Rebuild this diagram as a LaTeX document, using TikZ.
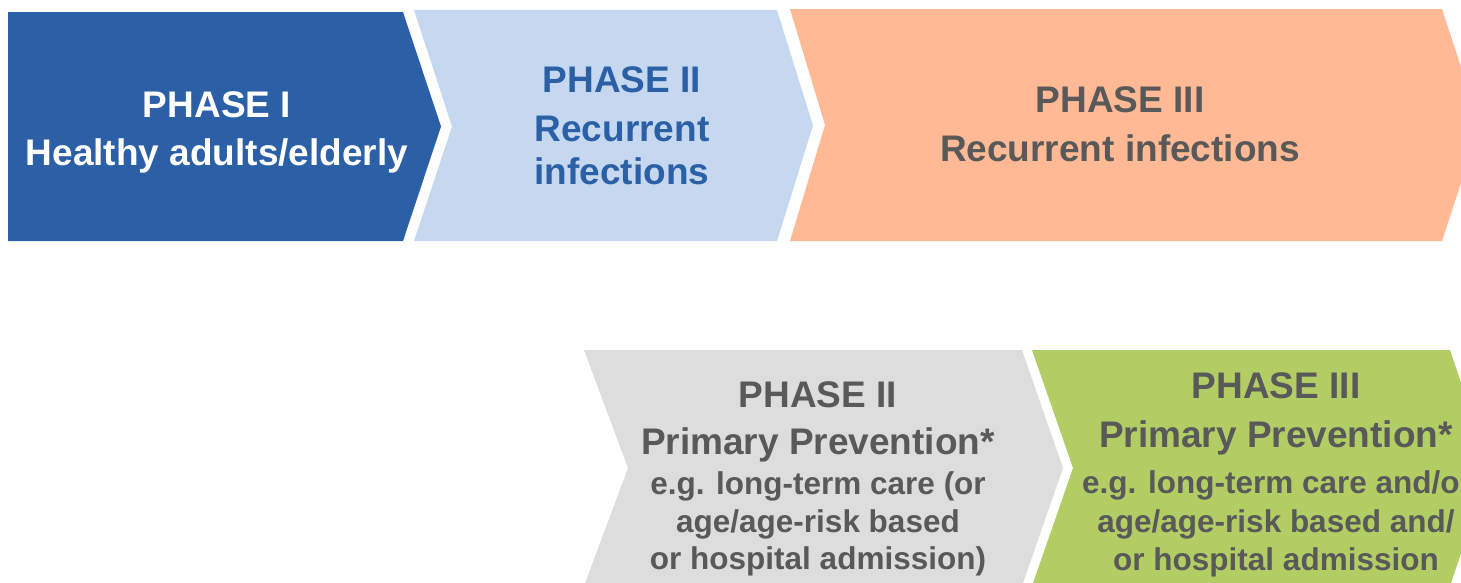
\documentclass[tikz,border=0pt]{standalone}
\usepackage{fontspec}
\setmainfont{Liberation Sans}
\definecolor{darkblue}{HTML}{2B5FA6}
\definecolor{paleblue}{HTML}{C5D8EF}
\definecolor{peach}{HTML}{FFB995}
\definecolor{lightgrey}{HTML}{DDDDDD}
\definecolor{leafgreen}{HTML}{B3CD65}
\definecolor{textgrey}{HTML}{595959}
\tikzset{
  bigline/.style={anchor=base, inner sep=0pt, font=\fontsize{37}{44}\selectfont\bfseries},
  smallline/.style={anchor=base, inner sep=0pt, font=\fontsize{31.5}{38}\selectfont\bfseries},
}
\begin{document}
\begin{tikzpicture}[x=1pt, y=-1pt]
\useasboundingbox (0,0) rectangle (1461,582);
\clip (0,0) rectangle (1461,582);

% top row of chevrons
\fill[darkblue] (8,12) -- (403,12) -- (441,126.5) -- (403,241) -- (8,241) -- cycle;
\fill[paleblue] (414,10) -- (777,10) -- (813,125.5) -- (777,241) -- (414,241) -- (452,126.5) -- cycle;
\fill[peach] (790,9) -- (1442,9) -- (1480,125) -- (1442,241) -- (790,241) -- (825,125) -- cycle;

% bottom row of chevrons
\fill[lightgrey] (584,350) -- (1022,350) -- (1063,468) -- (1022,586) -- (584,586) -- (628,468) -- cycle;
\fill[leafgreen] (1032,350) -- (1450,350) -- (1490,468) -- (1450,586) -- (1032,586) -- (1073,468) -- cycle;

% phase I
\node[bigline, text=white] (p1a) at (217,117) {PHASE I};
\node[bigline, text=white] (p1b) at (217,165) {Healthy adults/elderly};

% phase II, recurrent infections
\node[bigline, text=darkblue] (p2a) at (622,92) {PHASE II};
\node[bigline, text=darkblue] (p2b) at (622,141) {Recurrent};
\node[bigline, text=darkblue] (p2c) at (622,184) {infections};

% phase III, recurrent infections
\node[bigline, text=textgrey] (p3a) at (1120,112) {PHASE III};
\node[bigline, text=textgrey] (p3b) at (1120,161) {Recurrent infections};

% phase II, primary prevention
\node[bigline, text=textgrey] (q2a) at (818,407) {PHASE II};
\node[bigline, text=textgrey] (q2b) at (818,454) {Primary Prevention*};
\node[smallline, text=textgrey] (q2c) at (818,494) {e.g. long-term care (or};
\node[smallline, text=textgrey] (q2d) at (818,532) {age/age-risk based};
\node[smallline, text=textgrey] (q2e) at (818,569) {or hospital admission)};

% phase III, primary prevention
\node[bigline, text=textgrey] (q3a) at (1276,398) {PHASE III};
\node[bigline, text=textgrey] (q3b) at (1276,447) {Primary Prevention*};
\node[smallline, text=textgrey] (q3c) at (1277,493) {e.g. long-term care and/or};
\node[smallline, text=textgrey] (q3d) at (1276,532) {age/age-risk based and/};
\node[smallline, text=textgrey] (q3e) at (1276,570) {or hospital admission};
\end{tikzpicture}
\end{document}
